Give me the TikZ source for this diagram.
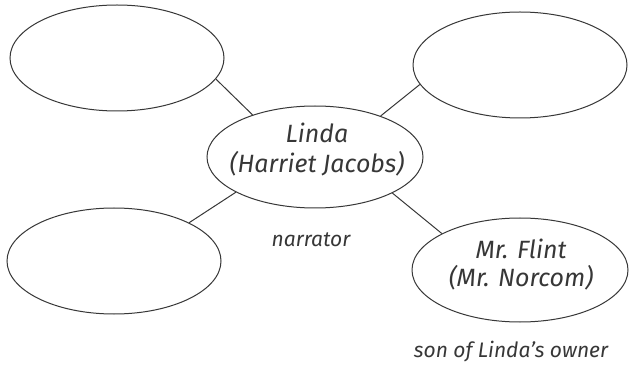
\documentclass[tikz,border=0pt]{standalone}
\usepackage{fontspec}
\setmainfont{Fira Sans}
\usetikzlibrary{shapes.geometric}
\definecolor{ink}{RGB}{55,55,55}
\tikzset{
  bubble/.style={ellipse, draw=ink, line width=1pt, inner sep=0pt, minimum width=214pt, minimum height=106pt, fill=white},
  link/.style={draw=ink, line width=1pt},
  hand/.style={text=ink, font=\fontsize{25}{30}\selectfont\itshape, align=center},
  note/.style={text=ink, font=\fontsize{21}{25}\selectfont\itshape}
}
\begin{document}
\begin{tikzpicture}[x=1pt,y=-1pt]
\useasboundingbox[fill=white] (0,0) rectangle (629,371);
\node[bubble] (tl) at (117,58) {};
\node[bubble] (tr) at (520,65) {};
\node[bubble, minimum width=216pt, minimum height=102pt] (c) at (315,157) {};
\node[bubble] (bl) at (114,261) {};
\node[bubble, minimum width=216pt, minimum height=104pt] (br) at (520,270) {};
\node[hand] (t1) at (317,133) {Linda};
\node[hand] (t2) at (317,164) {(Harriet Jacobs)};
\node[hand] (t3) at (521,249) {Mr. Flint};
\node[hand] (t4) at (521,278) {(Mr. Norcom)};
\node[note] (n1) at (311,240) {narrator};
\node[note] (n2) at (511,352) {son of Linda's owner};
\draw[link] (tl.-12) -- (c.146);
\draw[link] (tr.-169) -- (c.32);
\draw[link] (bl.27) -- (c.204);
\draw[link] (br.155) -- (c.-25);
\end{tikzpicture}
\end{document}
